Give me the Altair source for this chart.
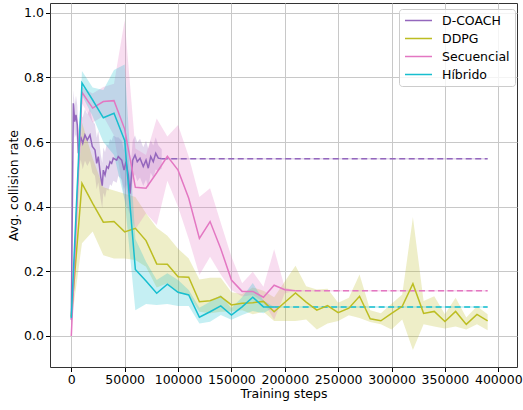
import altair as alt
import pandas as pd

SERIES = ["D-COACH", "DDPG", "Secuencial", "Híbrido"]
COLORS = ["#9467bd", "#bcbd22", "#e377c2", "#17becf"]
X_END = 390000

# D-COACH (mean and half-width of shaded band)
dc_steps = [0, 1900, 3200, 4400, 5600, 6600, 8800, 10700, 12800, 15000, 17500, 19700,
            22200, 23800, 25300, 27500, 29000, 30000, 31600, 33200, 34700, 36300, 37800,
            39300, 42500, 44000, 47200, 49400, 51200, 53400, 55000, 57500, 59700, 61800,
            64400, 67400, 70000, 72100, 74400, 76800, 79100, 81500, 84700]
dc_mean = [0.05, 0.72, 0.663, 0.684, 0.653, 0.565, 0.616, 0.596, 0.622, 0.606, 0.622, 0.586,
           0.575, 0.534, 0.555, 0.493, 0.465, 0.513, 0.498, 0.524, 0.519, 0.539, 0.534,
           0.55, 0.544, 0.555, 0.544, 0.513, 0.539, 0.498, 0.44, 0.544, 0.56, 0.539,
           0.55, 0.524, 0.544, 0.519, 0.555, 0.539, 0.565, 0.55, 0.548]
dc_half = [0.02, 0.04, 0.05, 0.06, 0.06, 0.07, 0.07, 0.08, 0.08, 0.08, 0.08, 0.08,
           0.08, 0.08, 0.08, 0.07, 0.07, 0.07, 0.07, 0.07, 0.07, 0.07, 0.07,
           0.07, 0.07, 0.06, 0.06, 0.06, 0.07, 0.07, 0.06, 0.06, 0.06, 0.06,
           0.06, 0.06, 0.06, 0.06, 0.05, 0.05, 0.05, 0.04, 0.03]

# DDPG
dd_steps = [0, 10000, 20000, 30000, 40000, 50000, 60000, 70000, 80000, 90000, 100000,
            110000, 120000, 130000, 140000, 150000, 160000, 170000, 180000, 190000,
            210000, 220000, 230000, 240000, 250000, 260000, 270000, 280000, 290000,
            300000, 310000, 320000, 330000, 340000, 350000, 360000, 370000, 380000, 390000]
dd_mean = [0.06, 0.472, 0.41, 0.352, 0.354, 0.322, 0.333, 0.295, 0.223, 0.222, 0.183,
           0.182, 0.106, 0.109, 0.122, 0.096, 0.101, 0.103, 0.107, 0.075,
           0.133, 0.105, 0.08, 0.094, 0.072, 0.086, 0.123, 0.053, 0.047,
           0.07, 0.092, 0.162, 0.07, 0.076, 0.045, 0.076, 0.036, 0.067, 0.047]
dd_low = [0.04, 0.287, 0.323, 0.25, 0.24, 0.24, 0.235, 0.214, 0.15, 0.163, 0.132,
          0.127, 0.075, 0.07, 0.075, 0.076, 0.08, 0.067, 0.075, 0.046,
          0.046, 0.051, 0.02, 0.039, 0.046, 0.064, 0.056, 0.043, 0.036,
          0.02, 0.051, -0.043, 0.036, 0.029, 0.023, 0.029, 0.02, 0.036, 0.018]
dd_high = [0.08, 0.66, 0.55, 0.46, 0.45, 0.44, 0.43, 0.38, 0.335, 0.31, 0.27,
           0.24, 0.175, 0.18, 0.18, 0.135, 0.13, 0.15, 0.14, 0.12,
           0.217, 0.154, 0.144, 0.146, 0.103, 0.118, 0.19, 0.08, 0.07,
           0.10, 0.128, 0.367, 0.108, 0.123, 0.067, 0.118, 0.057, 0.092, 0.067]

# Secuencial
sq_steps = [0, 10000, 20000, 30000, 40000, 50000, 60000, 70000, 80000, 90000, 100000,
            110000, 120000, 130000, 140000, 150000, 160000, 170000, 180000, 190000,
            200000, 210000]
sq_mean = [0.0, 0.754, 0.705, 0.725, 0.728, 0.64, 0.46, 0.457, 0.505, 0.556, 0.513,
           0.426, 0.302, 0.354, 0.27, 0.173, 0.138, 0.138, 0.12, 0.157, 0.143, 0.14]
sq_low = [0.0, 0.72, 0.66, 0.68, 0.62, 0.42, 0.33, 0.38, 0.343, 0.48, 0.4,
          0.3, 0.189, 0.245, 0.19, 0.142, 0.122, 0.127, 0.106, 0.05, 0.132, 0.14]
sq_high = [0.01, 0.77, 0.75, 0.77, 0.78, 0.977, 0.58, 0.56, 0.673, 0.617, 0.653,
           0.555, 0.43, 0.457, 0.35, 0.245, 0.163, 0.199, 0.152, 0.268, 0.15, 0.14]

# Híbrido
hy_steps = [0, 10000, 20000, 30000, 40000, 50000, 60000, 70000, 80000, 90000, 100000,
            110000, 120000, 130000, 140000, 150000, 160000, 170000, 180000, 190000]
hy_mean = [0.056, 0.783, 0.73, 0.675, 0.689, 0.605, 0.206, 0.17, 0.132, 0.16, 0.135,
           0.127, 0.058, 0.075, 0.093, 0.065, 0.09, 0.12, 0.09, 0.09]
hy_low = [0.04, 0.745, 0.68, 0.6, 0.56, 0.42, 0.08, 0.099, 0.096, 0.099, 0.093,
          0.093, 0.039, 0.044, 0.065, 0.05, 0.065, 0.077, 0.07, 0.09]
hy_high = [0.07, 0.82, 0.769, 0.761, 0.823, 0.84, 0.3, 0.23, 0.173, 0.194, 0.173,
           0.142, 0.087, 0.106, 0.127, 0.086, 0.12, 0.164, 0.11, 0.09]

rows = []
for s, m, h in zip(dc_steps, dc_mean, dc_half):
    rows.append({"series": "D-COACH", "step": s, "mean": m, "lo": m - h, "hi": m + h})
for name, st, me, lo, hi in [("DDPG", dd_steps, dd_mean, dd_low, dd_high),
                             ("Secuencial", sq_steps, sq_mean, sq_low, sq_high),
                             ("Híbrido", hy_steps, hy_mean, hy_low, hy_high)]:
    for s, m, l, u in zip(st, me, lo, hi):
        rows.append({"series": name, "step": s, "mean": m, "lo": l, "hi": u})
df = pd.DataFrame(rows)

# dashed continuation from the last recorded value to the end of training
ext_rows = []
for name, st, me in [("D-COACH", dc_steps, dc_mean), ("Secuencial", sq_steps, sq_mean),
                     ("Híbrido", hy_steps, hy_mean)]:
    ext_rows.append({"series": name, "step": st[-1], "mean": me[-1]})
    ext_rows.append({"series": name, "step": X_END, "mean": me[-1]})
ext = pd.DataFrame(ext_rows)

FS = 12.5
xscale = alt.Scale(domain=[-19950, 417500], nice=False, zero=False)
yscale = alt.Scale(domain=[-0.0959, 1.030], nice=False, zero=False)
cscale = alt.Scale(domain=SERIES, range=COLORS)

legend = alt.Legend(title=None, orient="none", legendX=349, legendY=6,
                    symbolType="stroke", symbolSize=729, symbolOpacity=1,
                    symbolStrokeWidth=1.5, labelOffset=9,
                    clipHeight=13, rowPadding=5, padding=5,
                    fillColor="rgba(255,255,255,0.8)",
                    strokeColor="#cccccc", cornerRadius=3,
                    labelFont="DejaVu Sans", labelFontSize=FS, labelColor="#000000")
color_leg = alt.Color("series:N", scale=cscale, legend=legend)
color_none = alt.Color("series:N", scale=cscale, legend=None)

xenc = alt.X("step:Q", scale=xscale,
             axis=alt.Axis(title="Training steps", values=list(range(0, 400001, 50000)),
                           format="d", titlePadding=1))
yenc = alt.Y("mean:Q", scale=yscale,
             axis=alt.Axis(title="Avg. collision rate", values=[0, 0.2, 0.4, 0.6, 0.8, 1.0],
                           format=".1f", titlePadding=3))

bands = alt.Chart(df).mark_area(opacity=0.25, interpolate="linear").encode(
    x=xenc,
    y=alt.Y("lo:Q", scale=yscale),
    y2="hi:Q",
    color=color_none,
    detail="series:N",
)

under = alt.Chart(ext).mark_line(strokeWidth=1.5, opacity=0.25).encode(
    x=xenc, y=yenc, color=color_none,
)

dashes = alt.Chart(ext).mark_line(strokeWidth=1.5, strokeDash=[6, 3.5]).encode(
    x=xenc, y=yenc, color=color_none,
)

lines = alt.Chart(df).mark_line(strokeWidth=1.5).encode(
    x=xenc, y=yenc, color=color_leg, order="step:Q",
)

chart = alt.layer(bands, under, dashes, lines).resolve_legend(
    color="independent",
).properties(
    width=467, height=364,
    autosize=alt.AutoSizeParams(type="none"),
    padding={"left": 50, "top": 3, "right": 6, "bottom": 43},
).configure(
    font="DejaVu Sans",
).configure_view(
    stroke="#333333", strokeWidth=1,
).configure_axis(
    labelFont="DejaVu Sans", labelFontSize=FS, labelColor="#000000",
    titleFont="DejaVu Sans", titleFontSize=FS, titleFontWeight="normal",
    titleColor="#000000", tickColor="#000000", tickSize=4.5, tickWidth=1,
    labelPadding=2, gridColor="#c8c8c8", gridWidth=1, domain=False,
).configure_legend(
    labelFont="DejaVu Sans", labelFontSize=FS, labelColor="#000000",
)

chart.save("out.html", embed_options={"renderer": "svg", "actions": False})
